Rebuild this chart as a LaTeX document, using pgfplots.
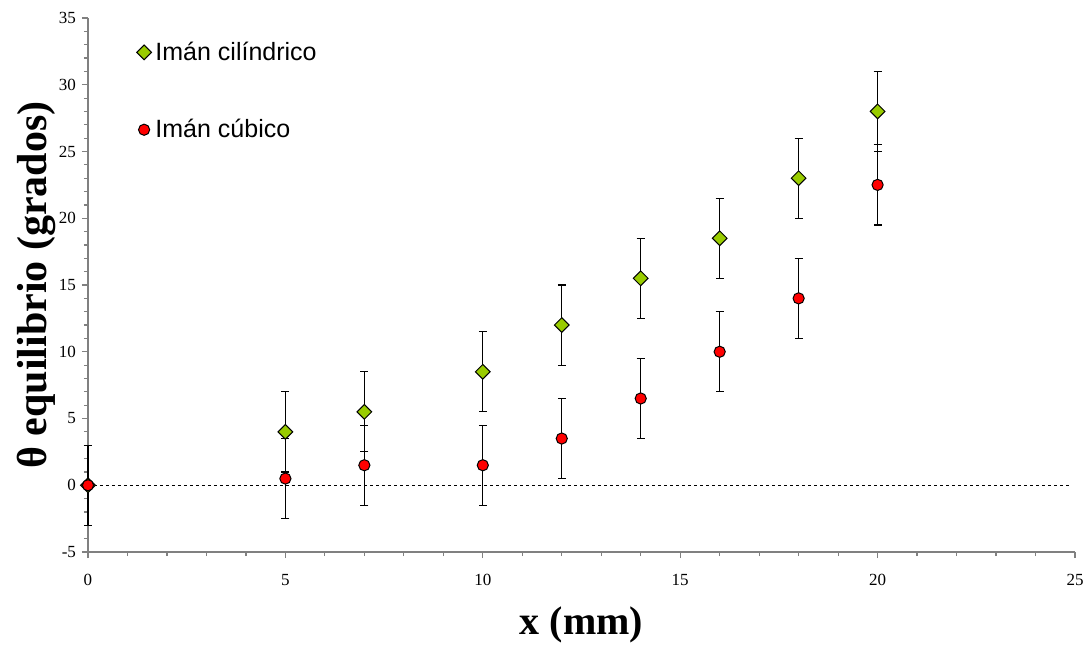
\documentclass[border=0pt]{standalone}
\usepackage{pgfplots}
\pgfplotsset{compat=1.18}
\usepackage{fontspec}
\setmainfont{Liberation Serif}
\newfontfamily\arial{Liberation Sans}
\definecolor{cil}{HTML}{99CC00}
\definecolor{cub}{HTML}{FF0000}
\definecolor{axgray}{HTML}{808080}

\begin{document}
\begin{tikzpicture}
\begin{axis}[
    scale only axis,
    width=493.5pt, height=267pt,
    xmin=0, xmax=25, ymin=-5, ymax=35,
    xtick={0,5,...,25}, ytick={-5,0,...,35},
    minor x tick num=4, minor y tick num=4,
    axis lines*=left,
    axis line style={axgray, line width=0.6pt},
    tick style={axgray, line width=0.6pt},
    tick align=outside,
    major tick length=3pt, minor tick length=2pt,
    /pgf/number format/assume math mode=true,
    tick label style={font=\fontsize{8.5}{10}\selectfont, text=black},
    xticklabel style={yshift=-4.5pt},
    yticklabel style={xshift=0.5pt},
    xlabel={\textbf{x (mm)}},
    ylabel={\textbf{θ equilibrio (grados)}},
    xlabel style={font=\fontsize{20}{24}\selectfont, at={(rel axis cs:0.5,0)}, anchor=center, yshift=-36.5pt},
    ylabel style={font=\fontsize{21}{24}\selectfont, at={(rel axis cs:0,0.5)}, anchor=center, yshift=26pt},
    clip=false,
    legend style={at={(0.049,0.964)}, anchor=north west, draw=none, fill=none,
        font=\arial\fontsize{12.5}{14}\selectfont, row sep=24pt,
        inner sep=0pt, /tikz/every even column/.append style={column sep=0pt}},
    legend cell align=left,
    legend image code/.code={\draw[mark repeat=2,mark phase=2,#1] plot coordinates {(0cm,0cm)(0.12cm,0cm)(0.24cm,0cm)};},
    error bars/y dir=both, error bars/y explicit,
    error bars/error bar style={black, line width=0.6pt},
    error bars/error mark options={rotate=90, mark size=2pt, black, line width=0.6pt},
]
\addplot[only marks, mark=square*, mark size=2.6pt,
    mark options={rotate=45, fill=cil, draw=black, line width=0.5pt}]
    coordinates {(0,0) +- (0,3) (5,4) +- (0,3) (7,5.5) +- (0,3) (10,8.5) +- (0,3)
    (12,12) +- (0,3) (14,15.5) +- (0,3) (16,18.5) +- (0,3) (18,23) +- (0,3) (20,28) +- (0,3)};
\addplot[only marks, mark=*, mark size=2.8pt,
    mark options={fill=cub, draw=black, line width=0.5pt}]
    coordinates {(0,0) +- (0,3) (5,0.5) +- (0,3) (7,1.5) +- (0,3) (10,1.5) +- (0,3)
    (12,3.5) +- (0,3) (14,6.5) +- (0,3) (16,10) +- (0,3) (18,14) +- (0,3) (20,22.5) +- (0,3)};
\addplot[black, line width=0.5pt, dash pattern=on 1.5pt off 1.5pt, forget plot,
    error bars/y dir=none] coordinates {(0,0) (24.9,0)};
\legend{Imán cilíndrico, Imán cúbico}
\coordinate (sw) at (rel axis cs:0,0);
\coordinate (ne) at (rel axis cs:1,1);
\end{axis}
\pgfresetboundingbox
\path ([shift={(-44pt,-46pt)}]sw) rectangle ([shift={(7pt,9pt)}]ne);
\end{tikzpicture}
\end{document}
